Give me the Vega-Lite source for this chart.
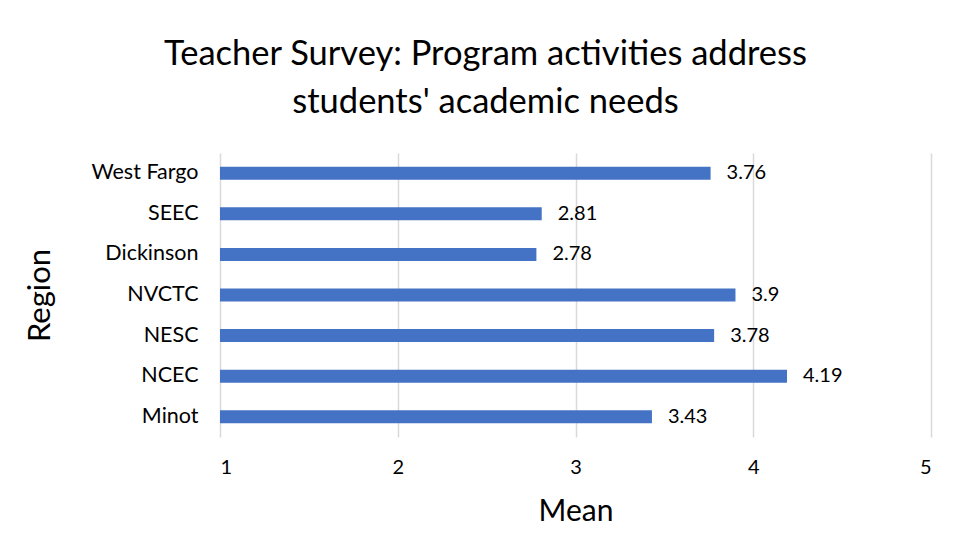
{
  "$schema": "https://vega.github.io/schema/vega-lite/v6.json",
  "width": 711,
  "height": 284,
  "autosize": {"type": "none"},
  "padding": {"left": 220, "top": 153, "right": 25, "bottom": 120},
  "background": "white",
  "title": {
    "text": ["Teacher Survey: Program activities address", "students' academic needs"],
    "anchor": "middle",
    "frame": "group",
    "dx": -90,
    "offset": 33,
    "font": "Lato",
    "fontSize": 34.5,
    "fontWeight": "normal",
    "color": "#000000",
    "lineHeight": 48
  },
  "data": {
    "values": [
      {"region": "West Fargo", "mean": 3.76},
      {"region": "SEEC", "mean": 2.81},
      {"region": "Dickinson", "mean": 2.78},
      {"region": "NVCTC", "mean": 3.9},
      {"region": "NESC", "mean": 3.78},
      {"region": "NCEC", "mean": 4.19},
      {"region": "Minot", "mean": 3.43}
    ]
  },
  "encoding": {
    "y": {
      "field": "region",
      "type": "nominal",
      "sort": null,
      "scale": {"paddingInner": 0.68, "paddingOuter": 0.34},
      "axis": {
        "title": "Region",
        "titleFont": "Lato",
        "titleFontSize": 31,
        "titleFontWeight": "normal",
        "titleColor": "#000000",
        "titlePadding": 34,
        "labelFont": "Lato",
        "labelFontSize": 21.5,
        "labelColor": "#000000",
        "labelPadding": 22,
        "ticks": false,
        "domain": false
      }
    },
    "x": {
      "field": "mean",
      "type": "quantitative",
      "scale": {"domain": [1, 5], "zero": false, "nice": false},
      "axis": {
        "title": "Mean",
        "values": [1, 2, 3, 4, 5],
        "titleFont": "Lato",
        "titleFontSize": 30,
        "titleFontWeight": "normal",
        "titleColor": "#000000",
        "titlePadding": 19,
        "labelFont": "Lato",
        "labelFontSize": 20,
        "labelColor": "#000000",
        "labelPadding": 20,
        "ticks": false,
        "domain": false,
        "grid": true,
        "gridColor": "#d9d9d9",
        "gridWidth": 1.5
      }
    }
  },
  "layer": [
    {"mark": {"type": "bar", "color": "#4472C4"}, "encoding": {"x2": {"datum": 1}}},
    {
      "mark": {"type": "text", "align": "left", "dx": 16, "font": "Lato", "fontSize": 20, "color": "#000000"},
      "encoding": {"text": {"field": "mean", "type": "quantitative"}}
    }
  ],
  "config": {"view": {"stroke": null}}
}
